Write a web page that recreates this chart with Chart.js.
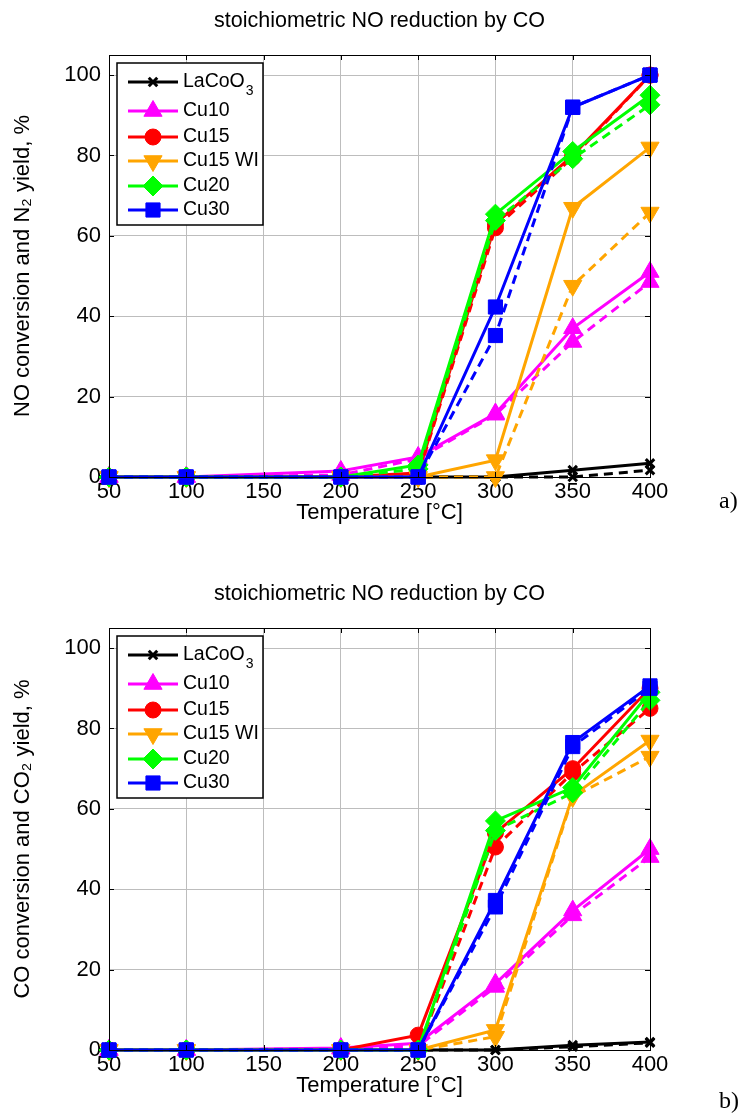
<!DOCTYPE html>
<html><head><meta charset="utf-8">
<script src="https://cdn.jsdelivr.net/npm/chart.js@4.4.0/dist/chart.umd.min.js"></script>
<style>
html,body{margin:0;padding:0;background:#fff;width:745px;height:1119px;overflow:hidden;}
.wrap{position:absolute;left:0;width:745px;height:546px;}
.lab{position:absolute;font-family:"Liberation Serif","Times New Roman",serif;font-size:24px;color:#000;line-height:26px;}
</style></head><body>
<div class="wrap" style="top:0"><canvas id="c1" width="745" height="546"></canvas></div>
<div class="wrap" style="top:573px"><canvas id="c2" width="745" height="546"></canvas></div>
<div class="lab" style="left:719px;top:487px">a)</div>
<div class="lab" style="left:719px;top:1087px">b)</div>
<script>
// ---------- data ----------
const temps = [50, 100, 200, 250, 300, 350, 400];
const xTicks = [50, 100, 150, 200, 250, 300, 350, 400];
const yTicks = [0, 20, 40, 60, 80, 100];
const seriesNames = ['LaCoO3', 'Cu10', 'Cu15', 'Cu15 WI', 'Cu20', 'Cu30'];
const chartTitle = 'stoichiometric NO reduction by CO';
const xTitle = 'Temperature [°C]';
const yTitleTop = 'NO conversion and N₂ yield, %';
const yTitleBottom = 'CO conversion and CO₂ yield, %';

// (a) NO conversion (solid)
const noConvLaCoO3 = [0, 0, 0, 0, 0, 1.7, 3.4];
const noConvCu10   = [0, 0, 1.5, 5, 15.8, 37, 51];
const noConvCu15   = [0, 0, 0, 1, 63, 80, 100];
const noConvCu15WI = [0, 0, 0, 0, 4.2, 67, 82];
const noConvCu20   = [0, 0, 0, 3, 65.4, 81, 95];
const noConvCu30   = [0, 0, 0, 0, 42.3, 92, 100];
// (a) N2 yield (dashed)
const n2YieldLaCoO3 = [0, 0, 0, 0, 0, 0, 1.7];
const n2YieldCu10   = [0, 0, 0.5, 4.5, 15.5, 33.6, 48.5];
const n2YieldCu15   = [0, 0, 0, 0.5, 62, 79.5, 100];
const n2YieldCu15WI = [0, 0, 0, 0, 0, 47.6, 65.8];
const n2YieldCu20   = [0, 0, 0, 2, 63.8, 79.2, 92.6];
const n2YieldCu30   = [0, 0, 0, 0, 35.2, 92, 100];
// (b) CO conversion (solid)
const coConvLaCoO3 = [0, 0, 0, 0, 0, 1.2, 2];
const coConvCu10   = [0, 0, 0.5, 1.7, 16.5, 34.7, 50];
const coConvCu15   = [0, 0, 0, 3.7, 54, 70, 90];
const coConvCu15WI = [0, 0, 0, 0, 5, 63.3, 77];
const coConvCu20   = [0, 0, 0, 0, 57, 65.3, 89];
const coConvCu30   = [0, 0, 0, 0, 37.2, 76.5, 90.6];
// (b) CO2 yield (dashed)
const co2YieldLaCoO3 = [0, 0, 0, 0, 0, 0.8, 1.8];
const co2YieldCu10   = [0, 0, 0.3, 1, 15.7, 33.5, 48];
const co2YieldCu15   = [0, 0, 0, 0, 50.5, 69, 85];
const co2YieldCu15WI = [0, 0, 0, 0, 3.3, 63, 73];
const co2YieldCu20   = [0, 0, 0, 0, 54.6, 64, 87];
const co2YieldCu30   = [0, 0, 0, 0, 35.6, 75.5, 90];

// ---------- styles ----------
const FONT = '"Liberation Sans", Arial, Helvetica, sans-serif';
const colors = ['#000000', '#ff00ff', '#ff0000', '#ffa500', '#00ff00', '#0000ff'];
const pStyles = ['crossRot', 'triangle', 'circle', 'triangle', 'rectRot', 'rect'];
const pRadius = [6, 10.5, 8, 10.5, 10, 10];
const pRot = [0, 0, 0, 180, 0, 0];
const pBorder = [3, 1, 1, 1, 1, 1];

Chart.defaults.font.family = FONT;
Chart.defaults.color = '#000';

function makeSets(solid, dashed) {
  const ds = [];
  for (let i = 0; i < seriesNames.length; i++) {
    [[solid[i], []], [dashed[i], [9, 6]]].forEach(([arr, dash]) => {
      ds.push({
        label: seriesNames[i],
        data: temps.map((t, j) => ({ x: t, y: arr[j] })),
        borderColor: colors[i], backgroundColor: colors[i],
        borderWidth: 3, borderDash: dash,
        pointStyle: pStyles[i], pointRadius: pRadius[i], pointRotation: pRot[i],
        pointHoverRadius: pRadius[i],
        pointBorderColor: colors[i], pointBackgroundColor: colors[i], pointBorderWidth: pBorder[i],
        clip: false, tension: 0, order: -ds.length
      });
    });
  }
  return ds;
}

const framePlugin = {
  id: 'frame',
  afterDatasetsDraw(chart) {
    const ctx = chart.ctx, ca = chart.chartArea;
    const xs = chart.scales.x, ys = chart.scales.y;
    ctx.save();
    // title
    ctx.fillStyle = '#000';
    ctx.font = '21.5px ' + FONT;
    ctx.textAlign = 'center'; ctx.textBaseline = 'middle';
    ctx.fillText(chartTitle, (ca.left + ca.right) / 2, 21);
    // box
    ctx.strokeStyle = '#000'; ctx.lineWidth = 1;
    ctx.strokeRect(ca.left + 0.5, ca.top + 0.5, ca.right - ca.left, ca.bottom - ca.top);
    // inner tick marks
    ctx.beginPath();
    xTicks.forEach(v => {
      const px = Math.round(xs.getPixelForValue(v)) + 0.5;
      ctx.moveTo(px, ca.bottom); ctx.lineTo(px, ca.bottom - 5);
      ctx.moveTo(px, ca.top); ctx.lineTo(px, ca.top + 5);
    });
    yTicks.forEach(v => {
      const py = Math.round(ys.getPixelForValue(v)) + 0.5;
      ctx.moveTo(ca.left, py); ctx.lineTo(ca.left + 5, py);
      ctx.moveTo(ca.right, py); ctx.lineTo(ca.right - 5, py);
    });
    ctx.stroke();
    // legend
    const L = ca.left + 8, T = ca.top + 8, W = 146, H = 162;
    ctx.fillStyle = '#fff'; ctx.fillRect(L, T, W, H);
    ctx.strokeStyle = '#000'; ctx.lineWidth = 1.5; ctx.strokeRect(L, T, W, H);
    const rows = [19, 48, 74, 98, 123, 147];
    seriesNames.forEach((name, i) => {
      const y = T + rows[i];
      ctx.strokeStyle = colors[i]; ctx.fillStyle = colors[i];
      ctx.lineWidth = 3; ctx.setLineDash([]);
      ctx.beginPath(); ctx.moveTo(L + 11, y); ctx.lineTo(L + 61, y); ctx.stroke();
      ctx.lineWidth = pBorder[i];
      Chart.helpers.drawPoint(ctx, { pointStyle: pStyles[i], radius: pRadius[i], rotation: pRot[i], borderWidth: pBorder[i] }, L + 36, y);
      ctx.fillStyle = '#000'; ctx.textAlign = 'left'; ctx.textBaseline = 'middle';
      ctx.font = '19.5px ' + FONT;
      if (i === 0) {
        const base = 'LaCoO';
        ctx.fillText(base, L + 66, y);
        const w = ctx.measureText(base).width;
        ctx.font = '14px ' + FONT;
        ctx.fillText('3', L + 66 + w + 1, y + 9);
      } else {
        ctx.fillText(name, L + 66, y);
      }
    });
    ctx.restore();
  }
};

function makeChart(id, solid, dashed, yTitle) {
  return new Chart(document.getElementById(id), {
    type: 'line',
    data: { datasets: makeSets(solid, dashed) },
    options: {
      responsive: false, animation: false, devicePixelRatio: 1,
      layout: { padding: { top: 55, right: 95, left: 0, bottom: 0 } },
      plugins: { legend: { display: false }, title: { display: false }, tooltip: { enabled: false } },
      scales: {
        x: {
          type: 'linear', min: 50, max: 400,
          afterBuildTicks: s => { s.ticks = xTicks.map(v => ({ value: v })); },
          afterFit: s => { s.height = 69; },
          grid: { color: '#bdbdbd', lineWidth: 1, drawTicks: false },
          border: { display: true, color: '#000', width: 1 },
          ticks: { padding: 2, font: { size: 22 }, color: '#000', maxRotation: 0, autoSkip: false },
          title: { display: true, text: xTitle, font: { size: 22 }, color: '#000', padding: { top: 0, bottom: 20 } }
        },
        y: {
          type: 'linear', min: 0, max: 105,
          afterBuildTicks: s => { s.ticks = yTicks.map(v => ({ value: v })); },
          afterFit: s => { s.width = 109; },
          grid: { color: '#bdbdbd', lineWidth: 1, drawTicks: false },
          border: { display: true, color: '#000', width: 1 },
          ticks: { padding: 8, font: { size: 22 }, color: '#000', autoSkip: false },
          title: { display: true, text: yTitle, font: { size: 22 }, color: '#000', padding: { top: 10, bottom: 0 } }
        }
      }
    },
    plugins: [framePlugin]
  });
}

makeChart('c1',
  [noConvLaCoO3, noConvCu10, noConvCu15, noConvCu15WI, noConvCu20, noConvCu30],
  [n2YieldLaCoO3, n2YieldCu10, n2YieldCu15, n2YieldCu15WI, n2YieldCu20, n2YieldCu30],
  yTitleTop);
makeChart('c2',
  [coConvLaCoO3, coConvCu10, coConvCu15, coConvCu15WI, coConvCu20, coConvCu30],
  [co2YieldLaCoO3, co2YieldCu10, co2YieldCu15, co2YieldCu15WI, co2YieldCu20, co2YieldCu30],
  yTitleBottom);
</script>
</body></html>
